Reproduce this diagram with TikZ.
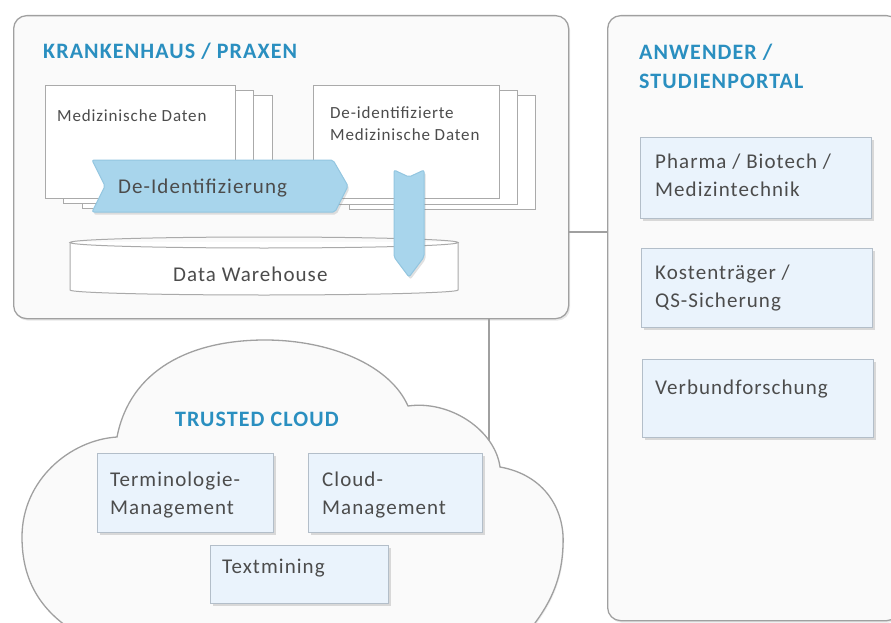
\documentclass[tikz,border=0pt]{standalone}
\usepackage{fontspec}
\setmainfont{Carlito}[LetterSpace=5]
\usetikzlibrary{shadows}

\definecolor{headblue}{HTML}{2A8FC0}
\definecolor{txtgray}{HTML}{4C4C4C}
\definecolor{panelline}{HTML}{A0A0A0}
\definecolor{panelfill}{HTML}{FAFAFA}
\definecolor{pageline}{HTML}{AAAAAA}
\definecolor{boxfill}{HTML}{EAF3FC}
\definecolor{boxline}{HTML}{B3BEC9}
\definecolor{arrowfill}{HTML}{A8D5EC}
\definecolor{arrowline}{HTML}{93C6E0}

% multi-line labels are placed by the baseline of their last line
\tikzset{
  panel/.style={draw=panelline, fill=panelfill, line width=1.3pt, rounded corners=13pt,
    anchor=north west, inner sep=0pt,
    drop shadow={shadow xshift=1.5pt, shadow yshift=-2pt, opacity=0.18, fill=black!50}},
  page/.style={draw=pageline, fill=white, line width=1pt, anchor=north west, inner sep=0pt},
  infobox/.style={draw=boxline, fill=boxfill, line width=1.2pt, anchor=north west, inner sep=0pt,
    drop shadow={shadow xshift=2pt, shadow yshift=-2.5pt, opacity=0.25, fill=black!55}},
  flowshape/.style={draw=arrowline, fill=arrowfill, line width=1pt, rounded corners=2pt,
    drop shadow={shadow xshift=1.5pt, shadow yshift=-2.5pt, opacity=0.22, fill=black!55}},
  link/.style={draw=panelline, line width=1.3pt},
  heading/.style={text=headblue, font=\fontsize{22}{29}\selectfont\bfseries, anchor=base west,
    inner sep=0pt, align=left},
  bigtxt/.style={text=txtgray, font=\fontsize{21}{28}\selectfont, anchor=base west,
    inner sep=0pt, align=left},
  smalltxt/.style={text=txtgray, font=\fontsize{17}{23}\selectfont, anchor=base west,
    inner sep=0pt, align=left},
}

\begin{document}
\begin{tikzpicture}[x=1pt, y=-1pt]
\useasboundingbox (0,0) rectangle (891,623);

% connector anchors
\coordinate (hl) at (0,232);
\coordinate (vl) at (489,452);

% ---------- panels ----------
\node[panel, minimum width=555pt, minimum height=303pt] (kh) at (13,15) {};
\node[panel, minimum width=292pt, minimum height=605pt] (an) at (607,15) {};

% connectors between the areas
\draw[link] (kh.east |- hl) -- (an.west |- hl);
\draw[link] (kh.south -| vl) -- (vl);

% ---------- hospital panel ----------
\node[heading] (khtitle) at (43,59) {KRANKENHAUS / PRAXEN};

% stack of medical records
\node[page, minimum width=190pt, minimum height=113pt] (md3) at (82,95) {};
\node[page, minimum width=190pt, minimum height=113pt] (md2) at (63,90) {};
\node[page, minimum width=190pt, minimum height=113pt] (md1) at (45,85) {};
\node[smalltxt] (mdtxt) at (57,122) {Medizinische Daten};

% stack of de-identified records
\node[page, minimum width=186pt, minimum height=114pt] (dd3) at (349,95) {};
\node[page, minimum width=186pt, minimum height=114pt] (dd2) at (331,90) {};
\node[page, minimum width=186pt, minimum height=113pt] (dd1) at (313,85) {};
\node[smalltxt] (ddtxt) at (330,141) {De-identifizierte\\Medizinische Daten};

% data warehouse cylinder
\fill[white] (70,242) -- (70,290) arc[start angle=180, end angle=360, x radius=194pt, y radius=5pt]
  -- (458,242) -- cycle;
\draw[draw=pageline, line width=1pt] (70,242) -- (70,290)
  arc[start angle=180, end angle=360, x radius=194pt, y radius=5pt] -- (458,242);
\draw[draw=pageline, line width=1pt] (264,242.5) ellipse[x radius=194pt, y radius=5.5pt];
\node[bigtxt] (dwtxt) at (173,281.5) {Data Warehouse};

% process arrows
\path[flowshape] (92,160) -- (333,160) -- (348,186) -- (335,212) -- (92,212) -- (105,186) -- cycle;
\node[bigtxt] (deid) at (118,193.5) {De-Identifizierung};
\path[flowshape] (394,170) -- (409,177) -- (424,170) -- (424,257) -- (409,277) -- (394,257) -- cycle;

% ---------- user / study portal panel ----------
\node[heading] (antitle) at (639,89) {ANWENDER /\\STUDIENPORTAL};

\node[infobox, minimum width=231pt, minimum height=81pt] (pb) at (640,137) {};
\node[bigtxt] (pbtxt) at (655,196.5) {Pharma / Biotech /\\Medizintechnik};

\node[infobox, minimum width=231pt, minimum height=79pt] (kt) at (641,248) {};
\node[bigtxt] (kttxt) at (655,307.5) {Kostenträger /\\QS-Sicherung};

\node[infobox, minimum width=231pt, minimum height=78pt] (vf) at (642,359) {};
\node[bigtxt] (vftxt) at (655,394.5) {Verbundforschung};

% ---------- trusted cloud ----------
\path[draw=panelline, fill=panelfill, line width=1.3pt,
      drop shadow={shadow xshift=1pt, shadow yshift=-1.5pt, opacity=0.12, fill=black!50}]
  (75,632) .. controls (40,610) and (22,580) .. (22,537)
  .. controls (22,480) and (70,440) .. (117,437)
  .. controls (130,370) and (190,340) .. (265,340)
  .. controls (330,340) and (390,365) .. (408,406)
  .. controls (450,400) and (495,430) .. (500,467)
  .. controls (545,475) and (565,510) .. (563,545)
  .. controls (562,580) and (550,605) .. (528,632) -- cycle;

\node[heading] (tctitle) at (175,426) {TRUSTED CLOUD};

\node[infobox, minimum width=176pt, minimum height=79pt] (tm) at (97,453) {};
\node[bigtxt] (tmtxt) at (110,514.5) {Terminologie-\\Management};

\node[infobox, minimum width=174pt, minimum height=79pt] (cm) at (308,453) {};
\node[bigtxt] (cmtxt) at (322,514) {Cloud-\\Management};

\node[infobox, minimum width=178pt, minimum height=58pt] (tx) at (210,545) {};
\node[bigtxt] (txtxt) at (222,573.5) {Textmining};
\end{tikzpicture}
\end{document}
